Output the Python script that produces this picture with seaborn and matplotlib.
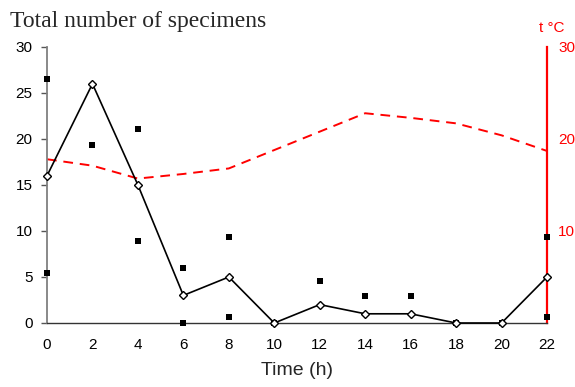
import numpy as np
import pandas as pd
import seaborn as sns
from matplotlib import pyplot as plt

# hours of sampling
hours = [0, 2, 4, 6, 8, 10, 12, 14, 16, 18, 20, 22]
# total specimens (line with open diamonds)
total = [16, 26, 15, 3, 5, 0, 2, 1, 1, 0, 0, 5]
# individual replicate counts (filled squares)
rep_hours = [0, 0, 2, 4, 4, 6, 6, 8, 8, 10, 12, 14, 16, 18, 20, 22, 22]
rep_counts = [26.5, 5.4, 19.3, 21.1, 8.9, 6.0, 0, 9.4, 0.7, 0, 4.6, 2.9, 2.9, 0, 0, 9.4, 0.6]
# water temperature, deg C (right axis)
temp = [17.8, 17.1, 15.7, 16.2, 16.8, 18.8, 20.8, 22.8, 22.3, 21.7, 20.4, 18.7]

df = pd.DataFrame({"hour": hours, "total": total, "temp": temp})
reps = pd.DataFrame({"hour": rep_hours, "count": rep_counts})

sns.set_style("white")
plt.rcParams["font.family"] = ["Liberation Sans", "DejaVu Sans"]

fig = plt.figure(figsize=(5.75, 3.87), dpi=100)
ax = fig.add_axes([47 / 575, 1 - 323 / 387, 500 / 575, 276 / 387])

sns.scatterplot(ax=ax, data=reps, x="hour", y="count", marker="s", s=18,
                color="black", edgecolor="black", linewidth=0, zorder=3, clip_on=False)
sns.lineplot(ax=ax, data=df, x="hour", y="total", color="black", linewidth=1.2,
             marker="D", markersize=4.5, markerfacecolor="white",
             markeredgecolor="black", markeredgewidth=1.0, zorder=4, clip_on=False)

ax.set_xlim(0, 22)
ax.set_ylim(0, 30)
ax.set_xticks(hours)
ax.set_yticks([0, 5, 10, 15, 20, 25, 30])
ax.tick_params(axis="both", labelsize=11, length=4, width=1, direction="out",
               colors="#555555", labelcolor="black", pad=6.5)
ax.tick_params(axis="x", pad=7)
ax.set_xlabel("Time (h)", fontsize=14, labelpad=7)
ax.set_ylabel("")
for side in ["top", "right"]:
    ax.spines[side].set_visible(False)
ax.spines["left"].set_color("#808080")
ax.spines["left"].set_linewidth(1.3)
ax.spines["bottom"].set_color("#333333")
ax.spines["bottom"].set_linewidth(1.0)
ax.patch.set_alpha(0)

ax2 = ax.twinx()
sns.lineplot(ax=ax2, data=df, x="hour", y="temp", color="red", linewidth=1.4,
             linestyle=(0, (5, 3.5)), zorder=2)
ax2.set_ylim(0, 30)
ax2.set_yticks([10, 20, 30])
ax2.set_ylabel("")
ax2.tick_params(axis="y", length=0, labelsize=11, labelcolor="red", pad=8)
for side in ["top", "left", "bottom"]:
    ax2.spines[side].set_visible(False)
ax2.spines["right"].set_color("red")
ax2.spines["right"].set_linewidth(1.6)
ax.set_zorder(ax2.get_zorder() + 1)

fig.text(10 / 575, 1 - 22 / 387, "Total number of specimens", fontsize=17,
         family=["Liberation Serif", "DejaVu Serif"], va="center", ha="left")
fig.text(552 / 575, 1 - 28 / 387, "t \u00b0C", fontsize=11, color="red",
         va="center", ha="center")

fig.savefig("out.png", dpi=100)
